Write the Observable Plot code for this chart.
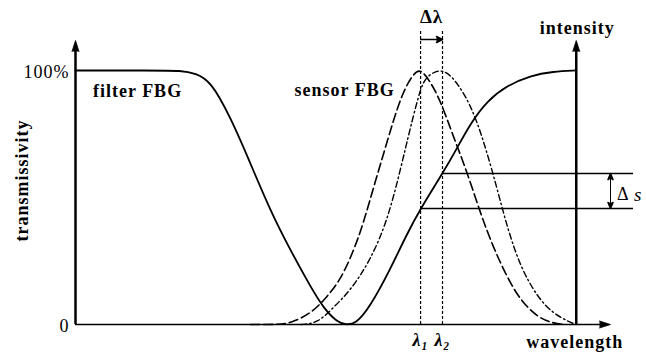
<!DOCTYPE html>
<html>
<head>
<meta charset="utf-8">
<script src="https://cdn.jsdelivr.net/npm/d3@7"></script>
<script src="https://cdn.jsdelivr.net/npm/@observablehq/plot@0.6"></script>
<style>
  html, body { margin: 0; padding: 0; background: #fff; }
  svg text { letter-spacing: 1px; }
</style>
</head>
<body>
<script>
// wavelength (arbitrary units) and transmissivity (fraction of 100%)
const filterX = [0, 14, 20, 22.4, 25.2, 29.0, 32.7, 36.4, 40.2, 43.9, 46.4, 49.0, 50.5, 52.3, 55.1, 58.9, 61.7, 64.5, 68.6, 71.4, 73.8, 77.0, 80.7, 85.0, 89.3, 93.6];
const filterY = [1, 1, 1, 0.988, 0.961, 0.815, 0.634, 0.449, 0.291, 0.150, 0.063, 0.008, 0, 0, 0.071, 0.220, 0.346, 0.457, 0.594, 0.697, 0.791, 0.882, 0.941, 0.980, 0.996, 1];

const sensor1X = [32.7, 37.4, 40.2, 43.9, 46.4, 49.5, 52.0, 53.8, 55.7, 57.6, 59.4, 61.3, 63.2, 64.5, 66.4, 68.2, 70.7, 73.3, 75.7, 78.1, 80.7, 83.2, 86.4, 89.3, 91.6];
const sensor1Y = [0, 0, 0.004, 0.043, 0.094, 0.173, 0.291, 0.398, 0.539, 0.673, 0.803, 0.921, 0.988, 1.008, 0.953, 0.882, 0.736, 0.594, 0.437, 0.303, 0.185, 0.094, 0.028, 0.004, 0];

const sensor2X = [42.1, 45.2, 48.2, 51.4, 55.1, 58.3, 60.7, 62.6, 63.9, 65.0, 66.7, 68.6, 70.7, 73.8, 76.3, 78.9, 80.7, 83.2, 86.4, 89.3, 92.5, 93.6];
const sensor2Y = [0, 0.004, 0.067, 0.134, 0.252, 0.409, 0.606, 0.776, 0.882, 0.961, 0.992, 1.004, 0.972, 0.870, 0.724, 0.528, 0.382, 0.224, 0.106, 0.043, 0.008, 0];

const lambdas = [64.5, 68.6];          // λ1, λ2
const lambdaLabels = ["λ₁", "λ₂"];
const levels = [0.457, 0.594];          // filter transmission at λ1, λ2
const intensityAxis = 93.6;             // position of the intensity axis
const yTicks = [0, 1];
const yTickLabels = ["0", "100%"];

const filter = filterX.map((x, i) => ({x, y: filterY[i]}));
const s1 = sensor1X.map((x, i) => ({x, y: sensor1Y[i]}));
const s2 = sensor2X.map((x, i) => ({x, y: sensor2Y[i]}));
const hLines = lambdas.map((l, i) => ({x1: l, y: levels[i]}));

const yTop = 1.118, xEnd = 100, hEnd = 104.3, dsX = 100;
const serif = "Liberation Serif";

const chart = Plot.plot({
  width: 646,
  height: 355,
  marginLeft: 75,
  marginRight: 36,
  marginTop: 40,
  marginBottom: 31,
  x: {domain: [0, 100], axis: null},
  y: {domain: [0, yTop], axis: null},
  style: {background: "white", fontFamily: serif, overflow: "visible"},
  marks: [
    // axes
    Plot.ruleX([0], {y1: 0, y2: yTop - 0.02, strokeWidth: 2.5, stroke: "black"}),
    Plot.ruleX([intensityAxis], {y1: 0, y2: yTop - 0.02, strokeWidth: 2.5, stroke: "black"}),
    Plot.ruleY([0], {x1: 0, x2: xEnd - 1, strokeWidth: 1.5, stroke: "black"}),
    Plot.vector([0, intensityAxis], {x: d => d, y: yTop, rotate: 0, anchor: "end", length: 11, r: 3.5, shape: "spike", fill: "black", stroke: "black", strokeWidth: 0.8}),
    Plot.vector([xEnd], {x: d => d, y: 0, rotate: 90, anchor: "end", length: 11, r: 3.5, shape: "spike", fill: "black", stroke: "black", strokeWidth: 0.8}),
    // λ markers
    Plot.ruleX(lambdas, {y1: 0, y2: 1.157, strokeDasharray: "3,2", strokeWidth: 1.2, stroke: "black"}),
    Plot.ruleY([1.122], {x1: lambdas[0], x2: lambdas[1] - 0.8, strokeWidth: 1.5, stroke: "black"}),
    Plot.vector([lambdas[1]], {x: d => d, y: 1.122, rotate: 90, anchor: "end", length: 6, r: 3, shape: "spike", fill: "black", stroke: "black"}),
    // intensity levels
    Plot.ruleY(hLines, {y: "y", x1: "x1", x2: hEnd, strokeWidth: 1.5, stroke: "black"}),
    Plot.ruleX([dsX], {y1: levels[0], y2: levels[1], strokeWidth: 1, stroke: "black"}),
    Plot.vector([levels[1]], {x: dsX, y: d => d, rotate: 0, anchor: "end", length: 6, r: 2.5, shape: "spike", fill: "black", stroke: "black"}),
    Plot.vector([levels[0]], {x: dsX, y: d => d, rotate: 180, anchor: "end", length: 6, r: 2.5, shape: "spike", fill: "black", stroke: "black"}),
    // curves
    Plot.line(filter, {x: "x", y: "y", curve: "basis", stroke: "black", strokeWidth: 1.8}),
    Plot.line(s1, {x: "x", y: "y", curve: "basis", stroke: "black", strokeWidth: 1.6, strokeDasharray: "9,4"}),
    Plot.line(s2, {x: "x", y: "y", curve: "basis", stroke: "black", strokeWidth: 1.4, strokeDasharray: "6,3,1.5,3"}),
    // texts
    Plot.text(yTicks, {x: 0, y: d => d, text: (d, i) => yTickLabels[i], textAnchor: "end", dx: -6, dy: 2, fontSize: 18, fontFamily: serif}),
    Plot.text(["transmissivity"], {x: -9.9, y: 0.567, text: d => d, rotate: -90, fontSize: 18, fontWeight: "bold", fontFamily: serif}),
    Plot.text(["filter FBG"], {x: 11.6, y: 0.917, text: d => d, fontSize: 18, fontWeight: "bold", fontFamily: serif}),
    Plot.text(["sensor FBG"], {x: 50.3, y: 0.921, text: d => d, fontSize: 18, fontWeight: "bold", fontFamily: serif}),
    Plot.text(["intensity"], {x: 93.8, y: 1.165, text: d => d, fontSize: 18, fontWeight: "bold", fontFamily: serif}),
    Plot.text(["wavelength"], {x: 93.3, y: -0.071, text: d => d, fontSize: 18, fontWeight: "bold", fontFamily: serif}),
    Plot.text(["Δλ"], {x: (lambdas[0] + lambdas[1]) / 2, y: 1.209, text: d => d, fontSize: 19, fontWeight: "bold", fontFamily: serif}),
    Plot.text(lambdas, {x: d => d, y: -0.063, text: (d, i) => lambdaLabels[i], fontSize: 18, fontStyle: "italic", fontWeight: "bold", fontFamily: serif}),
    Plot.text(["Δ"], {x: 101.2, y: 0.512, text: d => d, textAnchor: "start", fontSize: 18, fontFamily: serif}),
    Plot.text(["s"], {x: 104.4, y: 0.512, text: d => d, textAnchor: "start", fontSize: 19, fontStyle: "italic", fontFamily: serif})
  ]
});
document.body.appendChild(chart);
</script>
</body>
</html>
